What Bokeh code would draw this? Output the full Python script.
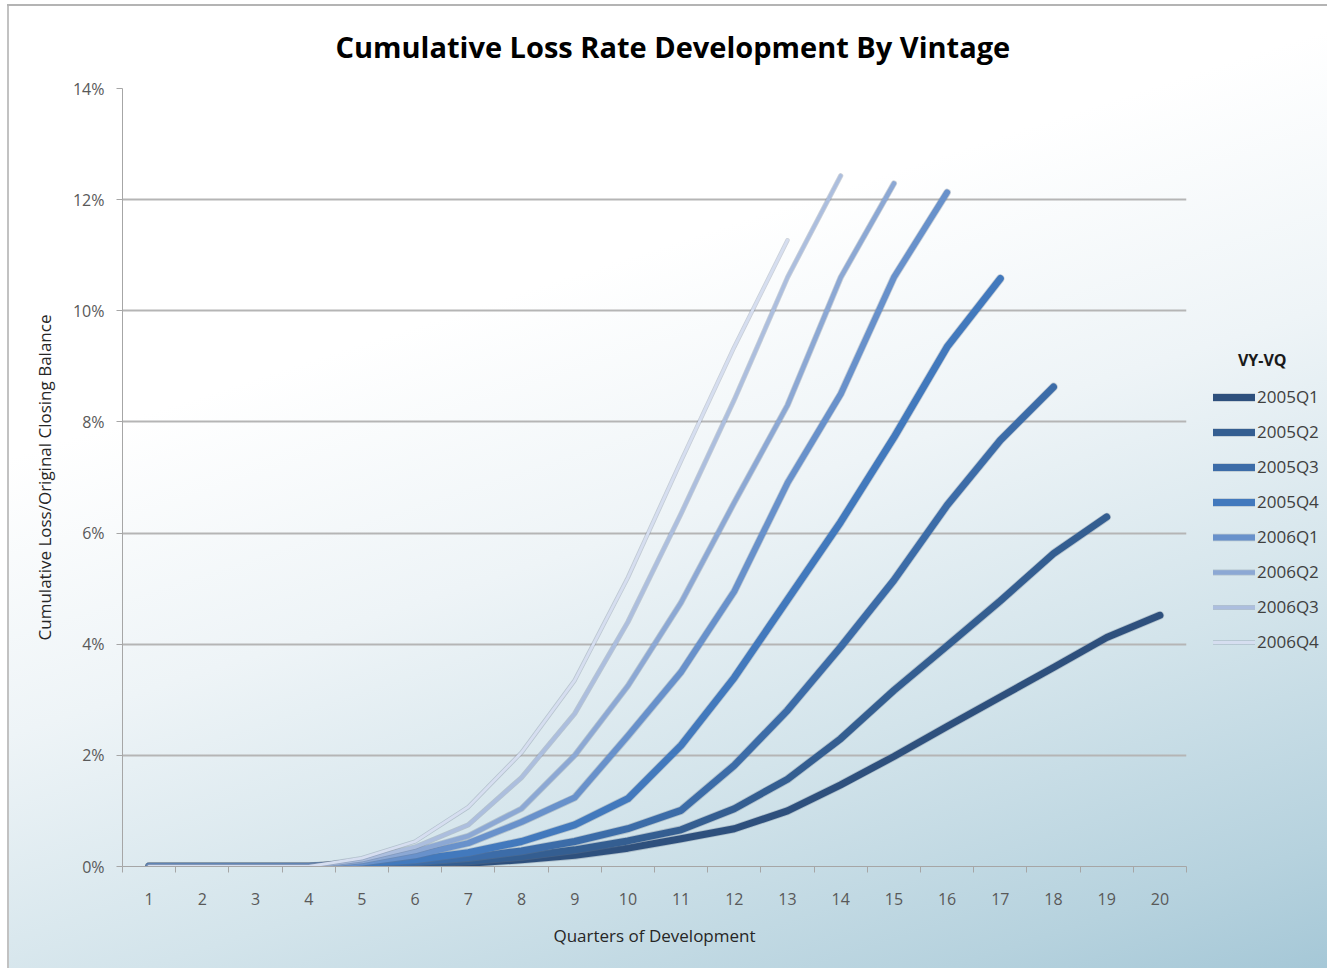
from bokeh.plotting import figure
from bokeh.models import (Legend, LegendItem, FixedTicker, NumeralTickFormatter,
                          Range1d, ColumnDataSource)
from bokeh.embed import file_html
from bokeh.resources import INLINE

# Quarters of development (x categories)
quarters = list(range(1, 21))

# Cumulative loss / original closing balance, in percent, per vintage
vintages = ["2005Q1", "2005Q2", "2005Q3", "2005Q4",
            "2006Q1", "2006Q2", "2006Q3", "2006Q4"]

v2005Q1 = [0.00, 0.00, 0.00, 0.00, 0.01, 0.03, 0.06, 0.12, 0.20, 0.33,
           0.50, 0.68, 1.00, 1.47, 1.98, 2.52, 3.05, 3.58, 4.12, 4.52]
v2005Q2 = [0.00, 0.00, 0.00, 0.00, 0.02, 0.05, 0.10, 0.18, 0.30, 0.46,
           0.66, 1.04, 1.57, 2.30, 3.17, 3.97, 4.78, 5.63, 6.29]
v2005Q3 = [0.00, 0.00, 0.00, 0.00, 0.03, 0.08, 0.16, 0.28, 0.45, 0.68,
           1.01, 1.82, 2.81, 3.95, 5.15, 6.50, 7.67, 8.63]
v2005Q4 = [0.00, 0.00, 0.00, 0.00, 0.05, 0.12, 0.25, 0.45, 0.75, 1.22,
           2.18, 3.40, 4.80, 6.20, 7.72, 9.35, 10.58]
v2006Q1 = [0.00, 0.00, 0.00, 0.00, 0.07, 0.20, 0.42, 0.80, 1.24, 2.35,
           3.50, 4.95, 6.90, 8.50, 10.60, 12.13]
v2006Q2 = [0.00, 0.00, 0.00, 0.00, 0.10, 0.28, 0.55, 1.04, 2.00, 3.25,
           4.75, 6.55, 8.30, 10.60, 12.29]
v2006Q3 = [0.00, 0.00, 0.00, 0.00, 0.12, 0.35, 0.75, 1.60, 2.75, 4.40,
           6.35, 8.40, 10.60, 12.43]
v2006Q4 = [0.00, 0.00, 0.00, 0.00, 0.15, 0.45, 1.07, 2.05, 3.35, 5.20,
           7.30, 9.35, 11.27]

series = [v2005Q1, v2005Q2, v2005Q3, v2005Q4, v2006Q1, v2006Q2, v2006Q3, v2006Q4]

y_ticks = [0, 2, 4, 6, 8, 10, 12, 14]

colors = ["#2e507d", "#345e91", "#3c6ca8", "#4279bd",
          "#6891cb", "#8ca8d4", "#acbede", "#d6def0"]
widths = [7, 7, 7, 7, 6, 4.6, 3.6, 2.8]

FONT = "Open Sans"

p = figure(frame_width=1064, frame_height=778,
           output_backend="svg", toolbar_location=None,
           x_range=Range1d(0.5, 20.5), y_range=Range1d(0, 0.14),
           min_border_left=122, min_border_right=141,
           min_border_top=88, min_border_bottom=102,
           background_fill_color=None, border_fill_color=None,
           outline_line_color=None)

# chart box: white page edge, thin grey frame on top/left, gradient backdrop
p.styles = {
    "background": (
        "linear-gradient(#ffffff, #ffffff) 0 0 / 100% 4px no-repeat, "
        "linear-gradient(#ffffff, #ffffff) 0 0 / 7px 100% no-repeat, "
        "linear-gradient(#b4b4b4, #b4b4b4) 7px 4px / 100% 2px no-repeat, "
        "linear-gradient(#c2c2c2, #c2c2c2) 7px 4px / 2px 100% no-repeat, "
        "linear-gradient(162deg, #ffffff 0%, #ffffff 30%, #eef4f7 48%, "
        "#d3e4eb 66%, #b6d2de 83%, #93bccf 100%)"
    ),
}

# title
p.title.text = "Cumulative Loss Rate Development By Vintage"
p.title.align = "left"
p.title.offset = 213
p.title.text_font = FONT
p.title.text_font_size = "29px"
p.title.text_font_style = "bold"
p.title.text_color = "#000000"
p.title.standoff = 46

# grid
p.xgrid.grid_line_color = None
p.ygrid.ticker = FixedTicker(ticks=[t / 100 for t in y_ticks])
p.ygrid.grid_line_color = "#b5b5b5"
p.ygrid.grid_line_width = 2

# y axis
p.yaxis.ticker = FixedTicker(ticks=[t / 100 for t in y_ticks], minor_ticks=[])
p.yaxis.formatter = NumeralTickFormatter(format="0%")
p.yaxis.axis_line_color = "#a6a6a6"
p.yaxis.major_tick_line_color = "#a6a6a6"
p.yaxis.major_tick_out = 6
p.yaxis.major_tick_in = 0
p.yaxis.minor_tick_line_color = None
p.yaxis.major_label_standoff = 12
p.yaxis.major_label_text_font = FONT
p.yaxis.major_label_text_font_size = "16px"
p.yaxis.major_label_text_color = "#595959"
p.yaxis.axis_label = "Cumulative Loss/Original Closing Balance"
p.yaxis.axis_label_text_font = FONT
p.yaxis.axis_label_text_font_size = "17px"
p.yaxis.axis_label_text_font_style = "normal"
p.yaxis.axis_label_text_color = "#262626"
p.yaxis.axis_label_standoff = 14

# x axis: labels at each quarter, tick marks between quarters
p.xaxis.ticker = FixedTicker(ticks=quarters,
                             minor_ticks=[q - 0.5 for q in quarters] + [quarters[-1] + 0.5])
p.xaxis.axis_line_color = "#a6a6a6"
p.xaxis.major_tick_line_color = None
p.xaxis.major_tick_out = 0
p.xaxis.major_tick_in = 0
p.xaxis.minor_tick_line_color = "#a6a6a6"
p.xaxis.minor_tick_out = 6
p.xaxis.minor_tick_in = 0
p.xaxis.major_label_standoff = 20
p.xaxis.major_label_text_font = FONT
p.xaxis.major_label_text_font_size = "16px"
p.xaxis.major_label_text_color = "#595959"
p.xaxis.axis_label = "Quarters of Development"
p.xaxis.axis_label_text_font = FONT
p.xaxis.axis_label_text_font_size = "17px"
p.xaxis.axis_label_text_font_style = "normal"
p.xaxis.axis_label_text_color = "#262626"
p.xaxis.axis_label_standoff = 16

items = []
for name, vals, col, w in zip(vintages, series, colors, widths):
    src = ColumnDataSource(dict(x=quarters[:len(vals)], y=[v / 100 for v in vals]))
    # soft grey edge under each line
    edge = p.line("x", "y", source=src, line_color="#6f7f92", line_alpha=0.35,
                  line_width=w + 1.6, line_cap="round", line_join="round")
    r = p.line("x", "y", source=src, line_color=col, line_width=w,
               line_cap="round", line_join="round")
    items.append(LegendItem(label=name, renderers=[edge, r]))

# legend in the right-hand side panel
legend = Legend(items=items, location=(27, 213), orientation="vertical",
                border_line_color=None, background_fill_alpha=0,
                padding=0, margin=0, spacing=12,
                glyph_width=42, glyph_height=20, label_height=20,
                label_standoff=2,
                label_text_font=FONT, label_text_font_size="17px",
                label_text_color="#404040",
                title="\u00a0\u00a0\u00a0\u00a0\u00a0\u00a0VY-VQ",
                title_text_font=FONT, title_text_font_size="16px",
                title_text_font_style="bold", title_text_color="#1a1a1a",
                title_standoff=14)
p.add_layout(legend, "right")

open("out.html", "w").write(file_html(p, INLINE))
